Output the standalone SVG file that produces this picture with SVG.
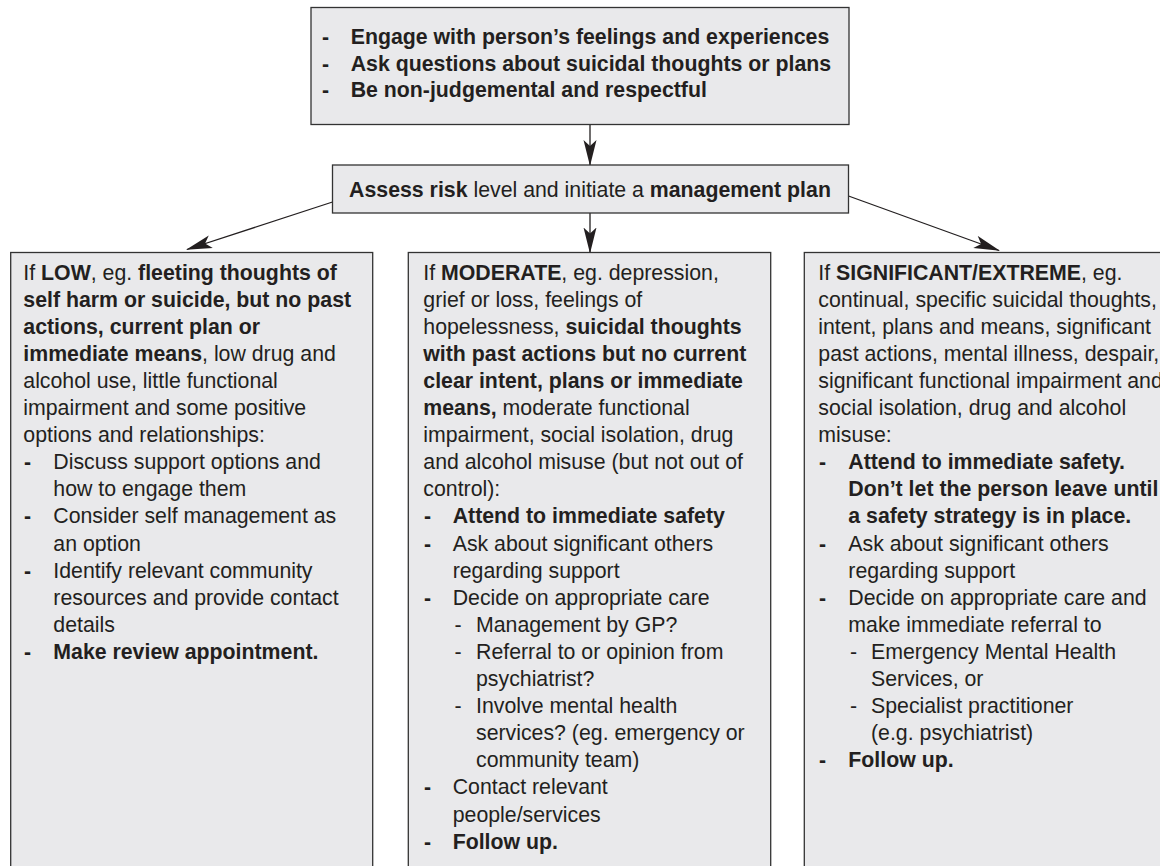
<svg xmlns="http://www.w3.org/2000/svg" width="1160" height="866" viewBox="0 0 1160 866">
<style>
.box{fill:#e9e9eb;stroke:#333;stroke-width:1.3}
.t{font-family:"Liberation Sans",Arial,Helvetica,sans-serif;font-size:21.3px;fill:#231f20}
.b{font-weight:bold}
.con{stroke:#231f20;stroke-width:1.3;fill:none}
</style>
<defs>
<marker id="ah" markerUnits="userSpaceOnUse" markerWidth="26" markerHeight="14" viewBox="0 0 26 14" refX="25" refY="7" orient="auto">
<path d="M0,0.5 L26,7 L0,13.5 L6,7 Z" fill="#231f20"/>
</marker>
</defs>
<rect width="1160" height="866" fill="#fff"/>

<g id="connectors">
<line class="con" x1="590" y1="124.5" x2="590" y2="165" marker-end="url(#ah)"/>
<line class="con" x1="590" y1="213" x2="590" y2="252.5" marker-end="url(#ah)"/>
<line class="con" x1="332.5" y1="202" x2="187" y2="249.5" marker-end="url(#ah)"/>
<line class="con" x1="848.5" y1="196" x2="999" y2="250.5" marker-end="url(#ah)"/>
</g>

<g id="engage">
<rect class="box" x="311" y="7.5" width="538" height="117"/>
<text class="t b" x="322" y="44">-</text>
<text class="t b" x="350.7" y="44">Engage with person’s feelings and experiences</text>
<text class="t b" x="322" y="70.5">-</text>
<text class="t b" x="350.7" y="70.5">Ask questions about suicidal thoughts or plans</text>
<text class="t b" x="322" y="97">-</text>
<text class="t b" x="350.7" y="97">Be non-judgemental and respectful</text>
</g>

<g id="assess">
<rect class="box" x="332.5" y="165" width="516" height="48"/>
<text class="t" x="590" y="197" text-anchor="middle"><tspan class="b">Assess risk</tspan> level and initiate a <tspan class="b">management plan</tspan></text>
</g>

<g id="low">
<rect class="box" x="10.7" y="252.5" width="362" height="640"/>
<text class="t" x="23.3" y="279.5">If <tspan class="b">LOW</tspan>, eg. <tspan class="b">fleeting thoughts of</tspan></text>
<text class="t b" x="23.3" y="306.6">self harm or suicide, but no past</text>
<text class="t b" x="23.3" y="333.7">actions, current plan or</text>
<text class="t" x="23.3" y="360.8"><tspan class="b">immediate means</tspan>, low drug and</text>
<text class="t" x="23.3" y="387.9">alcohol use, little functional</text>
<text class="t" x="23.3" y="415">impairment and some positive</text>
<text class="t" x="23.3" y="442.1">options and relationships:</text>
<text class="t b" x="24" y="469.2">-</text>
<text class="t" x="53.3" y="469.2">Discuss support options and</text>
<text class="t" x="53.3" y="496.3">how to engage them</text>
<text class="t b" x="24" y="523.4">-</text>
<text class="t" x="53.3" y="523.4">Consider self management as</text>
<text class="t" x="53.3" y="550.5">an option</text>
<text class="t b" x="24" y="577.6">-</text>
<text class="t" x="53.3" y="577.6">Identify relevant community</text>
<text class="t" x="53.3" y="604.7">resources and provide contact</text>
<text class="t" x="53.3" y="631.8">details</text>
<text class="t b" x="24" y="658.9">-</text>
<text class="t b" x="53.3" y="658.9">Make review appointment.</text>
</g>

<g id="moderate">
<rect class="box" x="408.3" y="252.5" width="362.4" height="640"/>
<text class="t" x="423.3" y="279.5">If <tspan class="b">MODERATE</tspan>, eg. depression,</text>
<text class="t" x="423.3" y="306.6">grief or loss, feelings of</text>
<text class="t" x="423.3" y="333.7">hopelessness, <tspan class="b">suicidal thoughts</tspan></text>
<text class="t b" x="423.3" y="360.8">with past actions but no current</text>
<text class="t b" x="423.3" y="387.9">clear intent, plans or immediate</text>
<text class="t" x="423.3" y="415"><tspan class="b">means,</tspan> moderate functional</text>
<text class="t" x="423.3" y="442.1">impairment, social isolation, drug</text>
<text class="t" x="423.3" y="469.2">and alcohol misuse (but not out of</text>
<text class="t" x="423.3" y="496.3">control):</text>
<text class="t b" x="424" y="523.4">-</text>
<text class="t b" x="452.7" y="523.4">Attend to immediate safety</text>
<text class="t b" x="424" y="550.5">-</text>
<text class="t" x="452.7" y="550.5">Ask about significant others</text>
<text class="t" x="452.7" y="577.6">regarding support</text>
<text class="t b" x="424" y="604.7">-</text>
<text class="t" x="452.7" y="604.7">Decide on appropriate care</text>
<text class="t" x="454.5" y="631.8">-</text>
<text class="t" x="476" y="631.8">Management by GP?</text>
<text class="t" x="454.5" y="658.9">-</text>
<text class="t" x="476" y="658.9">Referral to or opinion from</text>
<text class="t" x="476" y="686">psychiatrist?</text>
<text class="t" x="454.5" y="713.1">-</text>
<text class="t" x="476" y="713.1">Involve mental health</text>
<text class="t" x="476" y="740.2">services? (eg. emergency or</text>
<text class="t" x="476" y="767.3">community team)</text>
<text class="t b" x="424" y="794.4">-</text>
<text class="t" x="452.7" y="794.4">Contact relevant</text>
<text class="t" x="452.7" y="821.5">people/services</text>
<text class="t b" x="424" y="848.6">-</text>
<text class="t b" x="452.7" y="848.6">Follow up.</text>
</g>

<g id="significant">
<rect class="box" x="804.3" y="252.5" width="380" height="640"/>
<text class="t" x="818.3" y="279.5">If <tspan class="b">SIGNIFICANT/EXTREME</tspan>, eg.</text>
<text class="t" x="818.3" y="306.6">continual, specific suicidal thoughts,</text>
<text class="t" x="818.3" y="333.7">intent, plans and means, significant</text>
<text class="t" x="818.3" y="360.8">past actions, mental illness, despair,</text>
<text class="t" x="818.3" y="387.9">significant functional impairment and</text>
<text class="t" x="818.3" y="415">social isolation, drug and alcohol</text>
<text class="t" x="818.3" y="442.1">misuse:</text>
<text class="t b" x="819" y="469.2">-</text>
<text class="t b" x="848.3" y="469.2">Attend to immediate safety.</text>
<text class="t b" x="848.3" y="496.3">Don’t let the person leave until</text>
<text class="t b" x="848.3" y="523.4">a safety strategy is in place.</text>
<text class="t b" x="819" y="550.5">-</text>
<text class="t" x="848.3" y="550.5">Ask about significant others</text>
<text class="t" x="848.3" y="577.6">regarding support</text>
<text class="t b" x="819" y="604.7">-</text>
<text class="t" x="848.3" y="604.7">Decide on appropriate care and</text>
<text class="t" x="848.3" y="631.8">make immediate referral to</text>
<text class="t" x="850" y="658.9">-</text>
<text class="t" x="871" y="658.9">Emergency Mental Health</text>
<text class="t" x="871" y="686">Services, or</text>
<text class="t" x="850" y="713.1">-</text>
<text class="t" x="871" y="713.1">Specialist practitioner</text>
<text class="t" x="871" y="740.2">(e.g. psychiatrist)</text>
<text class="t b" x="819" y="767.3">-</text>
<text class="t b" x="848.3" y="767.3">Follow up.</text>
</g>
</svg>
